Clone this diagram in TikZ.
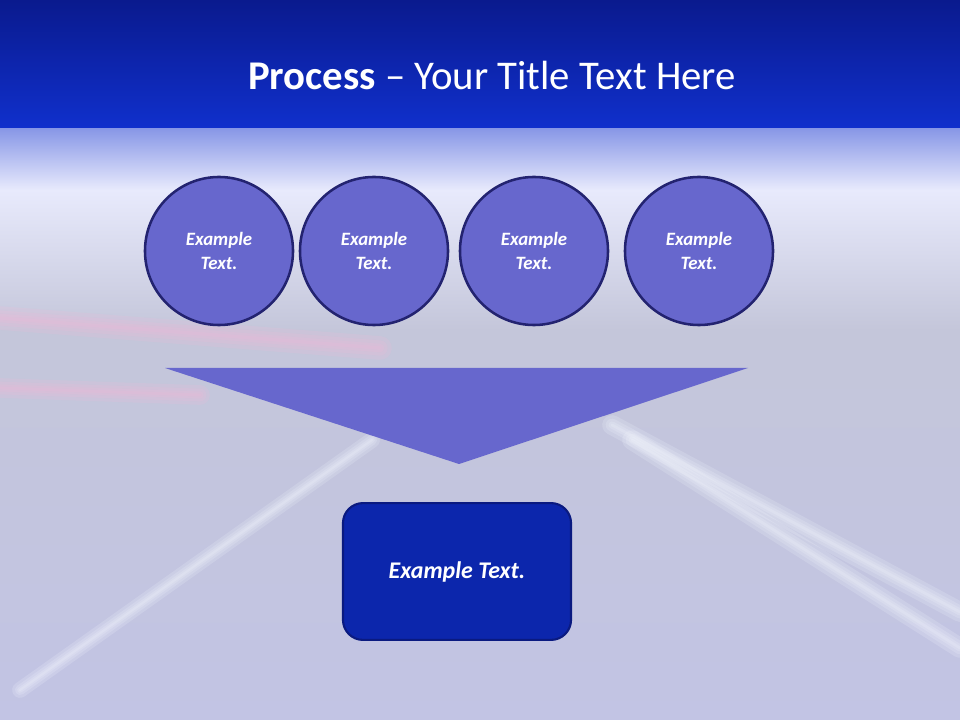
\documentclass[tikz,border=0pt]{standalone}
\usepackage{fontspec}
\setmainfont{Carlito}
\usetikzlibrary{positioning}
\definecolor{bandtop}{HTML}{0A1A8E}
\definecolor{bandlow}{HTML}{1030CC}
\definecolor{glow}{HTML}{E8EAFC}
\definecolor{floor}{HTML}{C4C6DA}
\definecolor{floorlow}{HTML}{C2C4E4}
\definecolor{circlefill}{HTML}{6767CD}
\definecolor{circleline}{HTML}{232370}
\definecolor{boxfill}{HTML}{0C26AC}
\definecolor{boxline}{HTML}{0A1A80}
\definecolor{streak}{HTML}{F4F8FF}
\definecolor{pinkstreak}{HTML}{F2B8D8}
\tikzset{
	stage/.style={circle, draw=circleline, line width=1.8pt, fill=circlefill, minimum size=3.7cm, align=center, text=white, font=\fontsize{13.4}{16.5}\selectfont\bfseries\itshape},
	result/.style={rectangle, draw=boxline, line width=1.5pt, fill=boxfill, rounded corners=0.5cm, minimum width=5.7cm, minimum height=3.42cm, text=white, font=\fontsize{17}{20}\selectfont\bfseries\itshape},
	funnel/.style={fill=circlefill, draw=none},
	light/.style={line cap=round, opacity=0.18}
}
\begin{document}
\begin{tikzpicture}[x=0.025cm, y=-0.025cm]
	\useasboundingbox (0,0) rectangle (960,720);
	% Background: title band and blurred road
	\shade[top color=floor, bottom color=floorlow] (0,330) rectangle (960,720);
	\shade[top color=glow, bottom color=floor] (0,190) rectangle (960,330);
	\shade[top color=bandlow!45!glow, bottom color=glow] (0,128) rectangle (960,190);
	\shade[top color=bandtop, bottom color=bandlow] (0,0) rectangle (960,128);
	\foreach \w in {14,9,5,2}{
		\draw[light, streak, line width=\w pt] (612,425) -- (960,612);
		\draw[light, streak, line width=\w pt] (632,440) -- (960,648);
		\draw[light, streak, line width=0.8*\w pt] (372,440) -- (20,690);
		\draw[light, pinkstreak, line width=1.2*\w pt] (0,318) -- (380,348);
		\draw[light, pinkstreak, line width=\w pt] (0,388) -- (200,395);
	}

	% Title
	\node[text=white, font=\fontsize{29}{33}\selectfont] (title) at (492,75) {\textbf{Process} -- Your Title Text Here};

	% Process circles
	\node[stage] (stepA) at (219,251) {Example\\Text.};
	\node[stage] (stepB) at (374,251) {Example\\Text.};
	\node[stage] (stepC) at (534,251) {Example\\Text.};
	\node[stage] (stepD) at (699,251) {Example\\Text.};

	% Funnel triangle
	\coordinate (funnelL) at (165,368);
	\coordinate (funnelR) at (748,368);
	\coordinate (funnelTip) at (459,464);
	\fill[funnel] (funnelL) -- (funnelR) -- (funnelTip) -- cycle;

	% Result box
	\node[result] (outcome) at (457,571.5) {Example Text.};
\end{tikzpicture}
\end{document}
